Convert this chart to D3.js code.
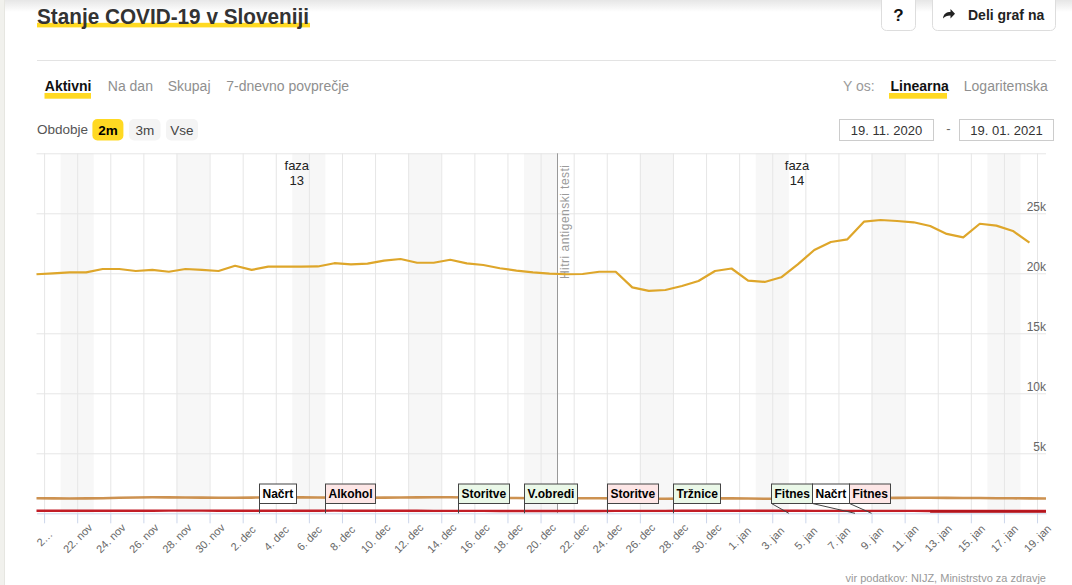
<!DOCTYPE html>
<html>
<head>
<meta charset="utf-8">
<script src="https://cdn.jsdelivr.net/npm/d3@7"></script>
<style>
  body { margin: 0; background: #fff; }
  svg { display: block; font-family: "Liberation Sans", Arial, sans-serif; }
</style>
</head>
<body>
<svg width="1072" height="585"></svg>
<script>
// ---- data ----
const firstDay = "2020-11-19";
const active = [19920, 20000, 20080, 20080, 20360, 20360, 20190, 20280, 20130, 20360,
  20280, 20190, 20630, 20280, 20550, 20550, 20550, 20570, 20840, 20750,
  20800, 21050, 21190, 20880, 20880, 21130, 20830, 20690, 20420, 20220,
  20080, 19980, 19920, 19940, 20130, 20130, 18830, 18530, 18610, 18940,
  19360, 20190, 20400, 19390, 19280, 19670, 20750, 21940, 22610, 22830,
  24300, 24440, 24360, 24250, 23940, 23280, 23000, 24130, 23970, 23530,
  22550];
const hospitalized = [1250, 1245, 1235, 1240, 1260, 1290, 1320, 1335, 1330, 1320,
  1310, 1300, 1300, 1310, 1320, 1330, 1330, 1320, 1310, 1300,
  1300, 1310, 1320, 1330, 1340, 1335, 1320, 1300, 1285, 1270,
  1260, 1255, 1250, 1255, 1250, 1240, 1225, 1215, 1210, 1220,
  1235, 1245, 1240, 1230, 1215, 1210, 1220, 1235, 1250, 1260,
  1270, 1280, 1285, 1290, 1290, 1285, 1280, 1270, 1260, 1250,
  1240, 1235];
const icu = [215, 212, 210, 208, 210, 212, 215, 218, 220, 222,
  220, 218, 215, 212, 210, 212, 215, 218, 220, 218,
  215, 212, 210, 208, 205, 203, 200, 198, 195, 195,
  193, 192, 190, 192, 195, 198, 200, 202, 205, 207,
  210, 212, 215, 214, 212, 210, 208, 206, 205, 204,
  203, 202, 200, 198, 196, 195, 194, 193, 192, 190,
  189, 188];
const criticalFirstDay = "2021-01-12";
const critical = [150, 148, 146, 145, 144, 142, 141, 140];

const noteDates = ["2020-12-03", "2020-12-07", "2020-12-15", "2020-12-19", "2020-12-24",
  "2020-12-28", "2021-01-04", "2021-01-08", "2021-01-09"];
const noteLabels = ["Načrt", "Alkohol", "Storitve", "V.obredi", "Storitve",
  "Tržnice", "Fitnes", "Načrt", "Fitnes"];
const noteKinds = ["plan", "stricter", "looser", "looser", "stricter",
  "looser", "looser", "plan", "stricter"];

const phaseNames = ["13", "14"];
const phaseStarts = ["2020-10-24", "2020-12-21"];
const phaseEnds = ["2020-12-21", "2021-01-19"];

const antigenDate = "2020-12-21";
const antigenLabel = "Hitri antigenski testi";

const yTickValues = [5000, 10000, 15000, 20000, 25000];
const yGridValues = [5000, 10000, 15000, 20000, 25000, 30000];
const monthNames = ["jan", "feb", "mar", "apr", "maj", "jun", "jul", "avg", "sep", "okt", "nov", "dec"];

const tabLabels = ["Aktivni", "Na dan", "Skupaj", "7-dnevno povprečje"];
const periodLabels = ["2m", "3m", "Vse"];
const dateFrom = "19. 11. 2020", dateTo = "19. 01. 2021";

// ---- setup ----
const svg = d3.select("svg");
const parseDay = d3.timeParse("%Y-%m-%d");
const yellow = "#ffd922";
const plot = { left: 36.5, right: 1046, top: 153.3, bottom: 513.3 };

const x = d3.scaleTime()
  .domain([new Date(2020, 10, 19, 13), new Date(2021, 0, 19, 13)])
  .range([plot.left, plot.right]);
const y = d3.scaleLinear().domain([0, 30000]).range([plot.bottom, plot.top]);

// points sit in the afternoon of their day
const pointDate = (start, i) => d3.timeHour.offset(d3.timeDay.offset(parseDay(start), i), 13);

// ---- page chrome ----
const defs = svg.append("defs");
const grad = defs.append("linearGradient").attr("id", "topShade")
  .attr("x1", 0).attr("x2", 0).attr("y1", 0).attr("y2", 1);
grad.append("stop").attr("offset", "0%").attr("stop-color", "#e6e6e6");
grad.append("stop").attr("offset", "100%").attr("stop-color", "#fff");
svg.append("rect").attr("x", 0).attr("y", 0).attr("width", 1072).attr("height", 12)
  .attr("fill", "url(#topShade)");
svg.append("rect").attr("x", 0).attr("y", 0).attr("width", 4).attr("height", 585).attr("fill", "#f1f1ed");
svg.append("line").attr("x1", 4.5).attr("x2", 4.5).attr("y1", 0).attr("y2", 585).attr("stroke", "#e6e6e1");

// title with yellow highlight
svg.append("rect").attr("x", 37).attr("y", 22.8).attr("width", 273).attr("height", 4.6).attr("fill", yellow);
svg.append("text").attr("x", 37).attr("y", 23.5)
  .attr("font-size", 22).attr("font-weight", "bold").attr("fill", "#333")
  .attr("textLength", 272).attr("lengthAdjust", "spacingAndGlyphs")
  .text("Stanje COVID-19 v Sloveniji");

// buttons
svg.append("rect").attr("x", 881.5).attr("y", -6).attr("width", 34).attr("height", 36.5)
  .attr("rx", 5).attr("fill", "#fff").attr("stroke", "#ddd");
svg.append("text").attr("x", 898.5).attr("y", 20.5).attr("text-anchor", "middle")
  .attr("font-size", 17).attr("font-weight", "bold").attr("fill", "#111").text("?");
svg.append("rect").attr("x", 932.5).attr("y", -6).attr("width", 123).attr("height", 36.5)
  .attr("rx", 5).attr("fill", "#fff").attr("stroke", "#ddd");
svg.append("path")
  .attr("d", "M943,18.5 C943.5,13.5 946.5,12 950.5,12 L950.5,9 L955,13.8 L950.5,18.6 L950.5,15.6 C947,15.6 944.8,16.6 943,18.5 Z")
  .attr("fill", "#222");
svg.append("text").attr("x", 968).attr("y", 20).attr("font-size", 14).attr("font-weight", "bold")
  .attr("fill", "#222").text("Deli graf na");

svg.append("line").attr("x1", 37).attr("x2", 1056).attr("y1", 60.5).attr("y2", 60.5).attr("stroke", "#e3e3e3");

// tabs
const tabX = [44.8, 107.8, 167.7, 226.2];
tabLabels.forEach((t, i) => {
  if (i === 0) svg.append("rect").attr("x", 44.5).attr("y", 93).attr("width", 46.5).attr("height", 5.7).attr("fill", yellow);
  svg.append("text").attr("x", tabX[i]).attr("y", 91).attr("font-size", 14)
    .attr("font-weight", i === 0 ? "bold" : "normal").attr("fill", i === 0 ? "#111" : "#8f8f8f").text(t);
});
svg.append("text").attr("x", 843).attr("y", 91).attr("font-size", 14).attr("fill", "#9a9a9a").text("Y os:");
svg.append("rect").attr("x", 889).attr("y", 93).attr("width", 58).attr("height", 5.7).attr("fill", yellow);
svg.append("text").attr("x", 890.5).attr("y", 91).attr("font-size", 14).attr("font-weight", "bold").attr("fill", "#111").text("Linearna");
svg.append("text").attr("x", 963.8).attr("y", 91).attr("font-size", 14).attr("fill", "#8f8f8f").text("Logaritemska");

// period pills
svg.append("text").attr("x", 37).attr("y", 134).attr("font-size", 13.5).attr("fill", "#555").text("Obdobje");
const pillX = [92.4, 129.1, 166];
const pillW = [31, 31.4, 32];
periodLabels.forEach((p, i) => {
  svg.append("rect").attr("x", pillX[i]).attr("y", 119).attr("width", pillW[i]).attr("height", 21.5)
    .attr("rx", 5).attr("fill", i === 0 ? yellow : "#f4f4f4");
  svg.append("text").attr("x", pillX[i] + pillW[i] / 2).attr("y", 134.5).attr("text-anchor", "middle")
    .attr("font-size", 13.5).attr("font-weight", i === 0 ? "bold" : "normal")
    .attr("fill", i === 0 ? "#000" : "#444").text(p);
});

// date inputs
[[839.5, dateFrom], [959.5, dateTo]].forEach(([bx, t]) => {
  svg.append("rect").attr("x", bx).attr("y", 119.5).attr("width", 94).attr("height", 21)
    .attr("fill", "#fff").attr("stroke", "#ccc");
  svg.append("text").attr("x", bx + 47).attr("y", 134.5).attr("text-anchor", "middle")
    .attr("font-size", 13).attr("fill", "#333").text(t);
});
svg.append("text").attr("x", 948.5).attr("y", 133).attr("text-anchor", "middle")
  .attr("font-size", 13).attr("fill", "#666").text("-");

// ---- chart ----
const chart = svg.append("g");

// weekend bands
const saturdays = d3.timeSaturday.range(new Date(2020, 10, 14), new Date(2021, 0, 20));
chart.append("g").selectAll("rect").data(saturdays).join("rect")
  .attr("x", d => Math.max(plot.left, x(d)))
  .attr("width", d => Math.min(plot.right, x(d3.timeDay.offset(d, 2))) - Math.max(plot.left, x(d)))
  .attr("y", plot.top).attr("height", plot.bottom - plot.top)
  .attr("fill", "#f7f7f7");

// grid
const xTicks = d3.timeDay.range(new Date(2020, 10, 20), new Date(2021, 0, 20), 2);
chart.append("g").attr("transform", `translate(0,${plot.bottom})`)
  .call(d3.axisBottom(x).tickValues(xTicks).tickSize(-(plot.bottom - plot.top)).tickFormat(""))
  .call(g => g.select(".domain").remove())
  .call(g => g.selectAll("line").attr("stroke", "#e6e6e6"));
chart.append("g").attr("transform", `translate(${plot.left},0)`)
  .call(d3.axisLeft(y).tickValues(yGridValues).tickSize(-(plot.right - plot.left)).tickFormat(""))
  .call(g => g.select(".domain").remove())
  .call(g => g.selectAll("line").attr("stroke", "#e6e6e6"));

// antigen test marker
const ax = Math.round(x(parseDay(antigenDate))) + 0.5;
chart.append("line").attr("x1", ax).attr("x2", ax).attr("y1", plot.top).attr("y2", plot.bottom)
  .attr("stroke", "#999");
chart.append("text").attr("transform", `translate(${ax + 11.5},279) rotate(-90)`)
  .attr("font-size", 12).attr("fill", "#9a9a9a").attr("textLength", 114).text(antigenLabel);

// phase labels
phaseNames.forEach((p, i) => {
  const a = Math.max(plot.left, x(parseDay(phaseStarts[i])));
  const b = Math.min(plot.right, x(parseDay(phaseEnds[i])));
  const t = chart.append("text").attr("x", (a + b) / 2).attr("y", 170).attr("text-anchor", "middle")
    .attr("font-size", 13).attr("fill", "#222");
  t.append("tspan").attr("x", (a + b) / 2).text("faza");
  t.append("tspan").attr("x", (a + b) / 2).attr("dy", 14.5).text(p);
});

// series
const line = start => d3.line().x((d, i) => x(pointDate(start, i))).y(d => y(d));
chart.append("path").datum(hospitalized).attr("d", line(firstDay))
  .attr("fill", "none").attr("stroke", "#c47f33").attr("stroke-opacity", 0.85).attr("stroke-width", 2.6);
chart.append("path").datum(icu).attr("d", line(firstDay))
  .attr("fill", "none").attr("stroke", "#c21d26").attr("stroke-width", 2.4);
chart.append("path").datum(critical).attr("d", line(criticalFirstDay))
  .attr("fill", "none").attr("stroke", "#b3141c").attr("stroke-width", 2.4);
chart.append("path").datum(active).attr("d", line(firstDay))
  .attr("fill", "none").attr("stroke", "#dea62a").attr("stroke-width", 2.2).attr("stroke-linejoin", "round");

// x axis
const fmt = (d, i) => i === 0 ? "2…" : d.getDate() + ". " + monthNames[d.getMonth()];
chart.append("g").attr("transform", `translate(0,${plot.bottom})`)
  .call(d3.axisBottom(x).tickValues(xTicks).tickSize(10).tickSizeOuter(0).tickFormat(fmt))
  .call(g => g.select(".domain").attr("stroke", "#ccd6eb"))
  .call(g => g.selectAll(".tick line").attr("stroke", "#ccd6eb"))
  .call(g => g.selectAll(".tick text")
    .attr("y", 0).attr("dy", "0.35em")
    .attr("transform", "translate(0,25) rotate(-45)")
    .style("text-anchor", "middle")
    .attr("fill", "#666").attr("font-size", 11)
    .attr("font-family", "'Liberation Sans', Arial, sans-serif"));

// y labels
chart.append("g").attr("transform", `translate(${plot.right},0)`)
  .call(d3.axisLeft(y).tickValues(yTickValues).tickSize(0).tickPadding(0).tickFormat(d => d / 1000 + "k"))
  .call(g => g.select(".domain").remove())
  .call(g => g.selectAll("text").attr("dy", null).attr("y", -2.5)
    .attr("fill", "#666").attr("font-size", 12)
    .attr("font-family", "'Liberation Sans', Arial, sans-serif"));

// measure annotations
const boxTop = 484, boxBottom = 503.5;
const kindFill = { plan: "#fff", stricter: "#fde6e6", looser: "#eaf8e8" };
const notes = noteDates.map((d, i) => ({ ax: x(parseDay(d)), label: noteLabels[i], kind: noteKinds[i] }));
const noteG = chart.append("g").selectAll("g").data(notes).join("g");
noteG.append("line").attr("class", "stem").attr("stroke", "#444");
noteG.append("rect").attr("y", boxTop).attr("height", boxBottom - boxTop)
  .attr("fill", d => kindFill[d.kind]).attr("stroke", "#444");
noteG.append("text").attr("y", 498).attr("font-size", 12).attr("font-weight", "bold")
  .attr("fill", "#000").text(d => d.label);
noteG.each(function (d) { d.w = Math.round(this.querySelector("text").getComputedTextLength() + 6); });

// push overlapping labels into centred clusters
let groups = notes.map(d => ({ items: [d], left: d.ax, width: d.w }));
let merged = true;
while (merged) {
  merged = false;
  for (let i = 1; i < groups.length; i++) {
    const a = groups[i - 1], b = groups[i];
    if (b.left < a.left + a.width) {
      const items = a.items.concat(b.items);
      const w = d3.sum(items, d => d.w);
      const mid = (items[0].ax + items[items.length - 1].ax) / 2;
      groups.splice(i - 1, 2, { items, left: mid - w / 2, width: w });
      merged = true;
      break;
    }
  }
}
groups.forEach(g => {
  let cx = g.left;
  g.items.forEach(d => { d.bx = Math.round(cx) + 0.5; cx += d.w; });
});
noteG.select("rect").attr("x", d => d.bx).attr("width", d => d.w);
noteG.select("text").attr("x", d => d.bx + 3);
noteG.select(".stem").attr("x1", d => d.bx).attr("y1", boxBottom)
  .attr("x2", d => Math.abs(d.ax - d.bx) < 1 ? d.bx : d.ax).attr("y2", plot.bottom);

// source
svg.append("text").attr("x", 1046).attr("y", 581.5).attr("text-anchor", "end")
  .attr("font-size", 11).attr("fill", "#999").text("vir podatkov: NIJZ, Ministrstvo za zdravje");
</script>
</body>
</html>
